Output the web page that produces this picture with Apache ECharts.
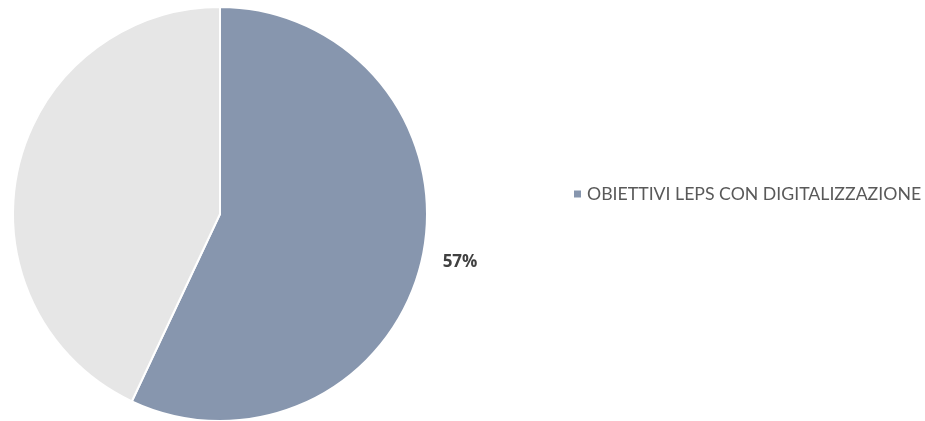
<!DOCTYPE html>
<html>
<head>
<meta charset="utf-8">
<script src="https://cdn.jsdelivr.net/npm/echarts@6/dist/echarts.min.js"></script>
<style>
  html, body { margin: 0; padding: 0; background: #ffffff; }
  #chart { width: 925px; height: 421px; }
</style>
</head>
<body>
<div id="chart"></div>
<script>
// Share of LEPS objectives involving digitalisation
const categories = ['OBIETTIVI LEPS CON DIGITALIZZAZIONE', 'ALTRI OBIETTIVI'];
const values = [57, 43];
const colors = ['#8796AE', '#E6E6E6'];
const legendItems = ['OBIETTIVI LEPS CON DIGITALIZZAZIONE'];

const chart = echarts.init(document.getElementById('chart'), null, { renderer: 'canvas' });

const data = categories.map((name, i) => ({
  name: name,
  value: values[i],
  itemStyle: { color: colors[i] },
  label: { show: i === 0 }
}));

chart.setOption({
  animation: false,
  backgroundColor: '#ffffff',
  legend: {
    data: legendItems,
    orient: 'vertical',
    left: 567,
    top: 180,
    icon: 'rect',
    itemWidth: 9,
    itemHeight: 9,
    itemGap: 6,
    textStyle: {
      color: '#595959',
      fontSize: 17.7,
      fontFamily: 'Lato, "Open Sans", sans-serif',
      padding: [0, 0, 0, 0]
    }
  },
  series: [{
    type: 'pie',
    center: [220, 214],
    radius: [0, 207],
    startAngle: 90,
    clockwise: true,
    avoidLabelOverlap: false,
    itemStyle: { borderColor: '#ffffff', borderWidth: 2 },
    label: {
      position: 'outside',
      formatter: p => p.value + '%',
      color: '#404040',
      fontSize: 17,
      fontWeight: 'bold',
      fontFamily: '"Open Sans", Lato, sans-serif',
      padding: [6, 0, 0, 0]
    },
    labelLine: { show: false, length: 16, length2: 0 },
    emphasis: { disabled: true },
    data: data
  }]
});
</script>
</body>
</html>
